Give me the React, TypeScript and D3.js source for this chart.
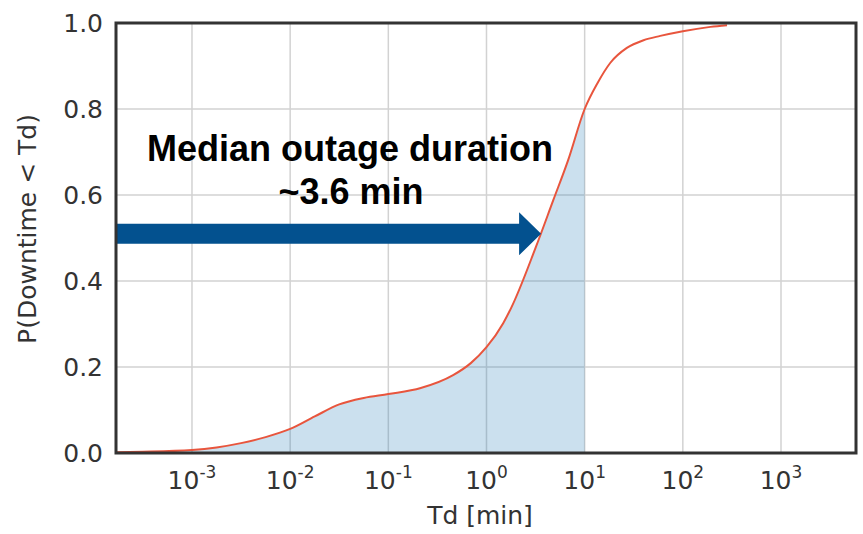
import React from "react";
import * as d3 from "d3";

// Empirical CDF of outage duration (Td in minutes)
const tdMinutes = [
  1.7e-4, 3.16e-4, 1e-3, 1.78e-3, 3.16e-3, 5.62e-3, 1e-2, 1.78e-2, 3.16e-2, 5.62e-2,
  0.1, 0.214, 0.457, 0.692, 1, 1.48, 1.78, 3.16, 4.79, 6.76, 10, 13.5, 18.2, 26.9, 39.8, 58.9, 100, 191, 282,
];
const probability = [
  0.002, 0.003, 0.007, 0.013, 0.023, 0.037, 0.056, 0.085, 0.113, 0.128,
  0.137, 0.151, 0.181, 0.209, 0.246, 0.302, 0.337, 0.477, 0.588, 0.68, 0.8, 0.86, 0.907, 0.942, 0.96, 0.97, 0.981, 0.991, 0.995,
];
const yTicks = [0, 0.2, 0.4, 0.6, 0.8, 1.0];
const xTickExponents = [-3, -2, -1, 0, 1, 2, 3];
const shadeLimit = 10;
const medianTd = 3.6;
const medianLevel = 0.51;
const annotationLines = ["Median outage duration", "~3.6 min"];

export default function App() {
  const W = 863, H = 534;
  const left = 116, right = 856, top = 23, bottom = 453;
  const x = d3.scaleLog().domain([Math.pow(10, -3.774), Math.pow(10, 3.764)]).range([left, right]);
  const y = d3.scaleLinear().domain([0, 1]).range([bottom, top]);
  const data = tdMinutes.map((t, i) => ({ t, p: probability[i] }));

  const line = d3.line<{ t: number; p: number }>()
    .x((d) => x(d.t))
    .y((d) => y(d.p))
    .curve(d3.curveMonotoneX);
  const area = d3.area<{ t: number; p: number }>()
    .x((d) => x(d.t))
    .y0(y(0))
    .y1((d) => y(d.p))
    .curve(d3.curveMonotoneX);
  const shaded = data.filter((d) => d.t <= shadeLimit);

  const ay = y(medianLevel);
  const tipX = x(medianTd);
  const headW = 22, headH = 21.5, shaft = 10;
  const arrowPts = [
    [left, ay - shaft], [tipX - headW, ay - shaft], [tipX - headW, ay - headH], [tipX, ay],
    [tipX - headW, ay + headH], [tipX - headW, ay + shaft], [left, ay + shaft],
  ].map((p) => p.join(",")).join(" ");

  const font = "'DejaVu Sans', sans-serif";
  const grid = "#d2d2d2";
  return (
    <svg width={W} height={H} style={{ position: "absolute", left: 0, top: 0, background: "#fff" }}>
      <defs>
        <clipPath id="plotclip">
          <rect x={left} y={top} width={right - left} height={bottom - top} />
        </clipPath>
      </defs>
      {xTickExponents.map((e) => (
        <line key={"gx" + e} x1={x(Math.pow(10, e))} x2={x(Math.pow(10, e))} y1={top} y2={bottom} stroke={grid} strokeWidth={1.5} />
      ))}
      {yTicks.map((v) => (
        <line key={"gy" + v} x1={left} x2={right} y1={y(v)} y2={y(v)} stroke={grid} strokeWidth={1.5} />
      ))}
      <g clipPath="url(#plotclip)">
        <path d={area(shaded) || ""} fill="rgba(31,119,180,0.23)" />
        <path d={line(data) || ""} fill="none" stroke="#e8553d" strokeWidth={2} />
      </g>
      <polygon points={arrowPts} fill="#03518f" />
      <rect x={left} y={top} width={right - left} height={bottom - top} fill="none" stroke="#333" strokeWidth={3} />
      {yTicks.map((v) => (
        <text key={"ty" + v} x={103} y={y(v)} dy="0.36em" textAnchor="end" fontFamily={font} fontSize={25} fill="#333">
          {v.toFixed(1)}
        </text>
      ))}
      {xTickExponents.map((e) => (
        <text key={"tx" + e} x={x(Math.pow(10, e))} y={489} textAnchor="middle" fontFamily={font} fontSize={25} fill="#333">
          10
          <tspan dy={-11} fontSize={17}>{e}</tspan>
        </text>
      ))}
      <text x={(left + right) / 2 - 6} y={524} textAnchor="middle" fontFamily={font} fontSize={25} fill="#333">
        Td [min]
      </text>
      <text transform={`translate(36,${(top + bottom) / 2 - 9}) rotate(-90)`} textAnchor="middle" fontFamily={font} fontSize={25} fill="#333">
        P(Downtime &lt; Td)
      </text>
      <text x={350} y={161} textAnchor="middle" fontFamily="'Liberation Sans', Arial, sans-serif" fontWeight="bold" fontSize={36} fill="#000">
        {annotationLines[0]}
      </text>
      <text x={351} y={204} textAnchor="middle" fontFamily="'Liberation Sans', Arial, sans-serif" fontWeight="bold" fontSize={36} fill="#000">
        {annotationLines[1]}
      </text>
    </svg>
  );
}
